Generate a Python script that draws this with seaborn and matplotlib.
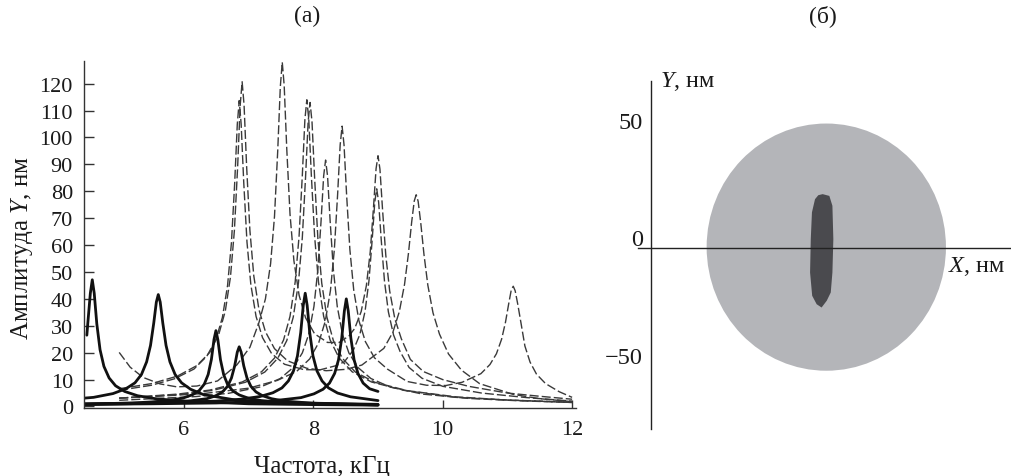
import matplotlib
matplotlib.use("Agg")
import matplotlib.pyplot as plt
import seaborn as sns
from matplotlib.patches import Ellipse
from matplotlib.transforms import ScaledTranslation

# (а) amplitude-frequency curves
# dashed curves (frequency in kHz, amplitude in nm)
dash_a_f = [5.0, 5.17, 5.37, 5.63, 5.89, 6.2, 6.52, 6.82, 7.02, 7.16, 7.26, 7.34, 7.40, 7.45, 7.49, 7.52,
            7.55, 7.59, 7.64, 7.70, 7.78, 7.88, 8.02, 8.22, 8.4, 8.55, 8.64, 8.74, 8.82, 8.88, 8.93, 8.97,
            9.0, 9.03, 9.07, 9.12, 9.18, 9.26, 9.36, 9.5, 9.7, 10.0, 10.4, 11.0, 11.5, 12.0]
dash_a_y = [20.1, 14.6, 10.8, 8.4, 7.3, 7.6, 9.5, 15.5, 22.0, 31.2, 40.0, 53.1, 70.6, 95.0, 118.8, 128.0,
            119.3, 95.6, 71.5, 54.2, 41.4, 33.0, 27.0, 23.8, 23.8, 26.2, 29.0, 35.3, 44.9, 57.5, 73.9, 88.4,
            93.2, 88.2, 73.2, 56.3, 43.0, 32.6, 25.2, 17.5, 13.0, 10.0, 7.5, 5.0, 3.8, 2.7]

dash_b_f = [5.0, 5.5, 5.9, 6.2, 6.4, 6.54, 6.64, 6.72, 6.78, 6.83, 6.87, 6.9, 6.93, 6.97, 7.02, 7.08,
            7.16, 7.26, 7.4, 7.6, 7.9, 8.2, 8.5, 8.75, 9.09, 9.23, 9.33, 9.41, 9.47, 9.52, 9.56, 9.59,
            9.62, 9.66, 9.71, 9.77, 9.85, 9.95, 10.09, 10.29, 10.57, 11.09, 11.5, 12.0]
dash_b_y = [6.6, 8.5, 11.3, 15.2, 20.1, 26.9, 35.5, 48.2, 65.3, 88.8, 112.0, 120.7, 112.0, 88.9, 65.5, 48.6,
            36.0, 27.8, 21.5, 17.0, 14.2, 13.3, 13.8, 15.4, 21.6, 27.6, 35.3, 45.4, 56.8, 68.5, 76.4, 78.7,
            76.3, 68.4, 56.6, 45.1, 34.8, 26.9, 19.5, 13.5, 8.5, 4.5, 2.9, 1.8]

dash_c_f = [5.0, 5.5, 5.855, 6.155, 6.355, 6.495, 6.595, 6.675, 6.735, 6.785, 6.825, 6.855, 6.885, 6.925,
            6.975, 7.035, 7.115, 7.215, 7.355, 7.555, 7.855, 8.1, 8.34, 8.48, 8.62, 8.72, 8.8, 8.86, 8.91,
            8.95, 8.98, 9.01, 9.05, 9.1, 9.16, 9.24, 9.34, 9.48, 9.68, 10.0, 10.6, 11.3, 12.0]
dash_c_y = [6.0, 7.9, 10.3, 13.9, 18.7, 24.9, 33.1, 45.0, 61.0, 83.1, 104.8, 113.7, 104.9, 83.2,
            61.1, 45.2, 33.5, 25.6, 19.7, 15.7, 13.7, 13.6, 15.1, 16.6, 21.0, 26.8, 35.4, 46.7, 62.0,
            76.0, 80.9, 75.9, 61.9, 46.6, 35.2, 26.6, 20.5, 14.5, 10.5, 7.5, 5.0, 3.3, 2.0]

dash_d_f = [5.0, 5.6, 6.3, 7.0, 7.445, 7.745, 7.945, 8.085, 8.185, 8.265, 8.325, 8.375, 8.415, 8.445,
            8.475, 8.515, 8.565, 8.625, 8.705, 8.805, 8.945, 9.145, 9.45, 9.75, 10.05, 10.3, 10.59, 10.73,
            10.83, 10.91, 10.97, 11.02, 11.06, 11.09, 11.12, 11.16, 11.21, 11.27, 11.35, 11.45, 11.59, 11.8, 12.0]
dash_d_y = [3.1, 3.8, 4.8, 6.8, 9.7, 13.1, 17.7, 23.8, 31.7, 43.1, 58.3, 78.5, 97.2, 104.2,
            97.2, 78.5, 58.4, 43.2, 31.9, 24.1, 18.1, 13.9, 9.3, 7.9, 7.8, 9.0, 12.2, 15.6,
            19.6, 25.0, 31.3, 38.2, 43.4, 44.7, 43.0, 38.0, 31.0, 22.5, 16.5, 12.0, 8.5, 5.5, 3.4]

dash_e_f = [5.0, 5.9, 6.4, 6.9, 7.2, 7.4, 7.54, 7.64, 7.72, 7.78, 7.83, 7.87, 7.9, 7.93, 7.97, 8.02,
            8.08, 8.16, 8.26, 8.4, 8.6, 8.9, 9.4, 10.2, 11.0, 12.0]
dash_e_y = [3.1, 4.6, 6.1, 9.1, 12.9, 18.0, 24.7, 33.5, 46.3, 63.3, 85.8, 106.7, 114.0, 106.7, 85.8, 63.3,
            46.3, 33.5, 24.7, 18.0, 12.9, 9.1, 6.0, 3.4, 2.4, 1.6]

dash_f_f = [5.0, 5.95, 6.45, 6.95, 7.25, 7.45, 7.59, 7.69, 7.77, 7.83, 7.88, 7.92, 7.95, 7.98, 8.02, 8.07,
            8.13, 8.21, 8.31, 8.45, 8.65, 8.95, 9.45, 10.2, 11.0, 12.0]
dash_f_y = [3.1, 4.5, 6.0, 9.0, 12.8, 17.9, 24.5, 33.2, 45.9, 62.7, 85.1, 105.8, 113.0, 105.8, 85.1, 62.7,
            45.9, 33.2, 24.5, 17.9, 12.8, 9.0, 5.9, 3.6, 2.4, 1.5]

dash_g_f = [5.0, 6.19, 6.69, 7.19, 7.49, 7.69, 7.83, 7.93, 8.01, 8.07, 8.12, 8.16, 8.19, 8.22, 8.26, 8.31,
            8.37, 8.45, 8.55, 8.69, 8.89, 9.19, 9.69, 10.4, 11.2, 12.0]
dash_g_y = [2.3, 3.7, 4.9, 7.3, 10.4, 14.5, 19.9, 26.9, 37.2, 50.8, 69.0, 85.7, 91.6, 85.7, 69.0, 50.8,
            37.2, 26.9, 19.9, 14.5, 10.4, 7.2, 4.6, 3.0, 2.1, 1.5]

# solid curves
solid_1_f = [4.5, 4.514, 4.554, 4.584, 4.614, 4.654, 4.704, 4.764, 4.844, 4.944, 5.084, 5.284, 5.584,
             6.1, 7.0, 8.0, 9.0]
solid_1_y = [26.5, 30.7, 42.1, 47.1, 42.1, 30.7, 21.1, 14.9, 10.6, 7.7, 5.6, 4.0, 2.8,
             1.9, 1.0, 0.7, 0.5]

solid_2_f = [4.456, 4.604, 4.904, 5.104, 5.244, 5.344, 5.424, 5.484, 5.534, 5.574, 5.604, 5.634, 5.674,
             5.724, 5.784, 5.864, 5.964, 6.104, 6.304, 6.8, 7.6, 9.0]
solid_2_y = [3.1, 3.4, 4.8, 6.6, 8.8, 11.9, 16.6, 22.7, 31.0, 38.8, 41.6, 38.8, 31.0,
             22.7, 16.6, 11.9, 8.8, 6.4, 4.4, 2.4, 1.4, 0.8]

solid_3_f = [4.456, 5.2, 5.5, 5.795, 5.995, 6.135, 6.235, 6.315, 6.375, 6.425, 6.465, 6.495, 6.525,
             6.565, 6.615, 6.675, 6.755, 6.855, 6.995, 7.195, 7.5, 8.0, 9.0]
solid_3_y = [0.9, 1.3, 1.7, 2.3, 3.2, 4.4, 5.9, 8.3, 11.9, 17.5, 24.9, 28.2, 24.8,
             17.4, 11.8, 8.2, 5.8, 4.3, 3.1, 2.2, 1.6, 1.0, 0.6]

solid_4_f = [4.456, 5.5, 6.0, 6.355, 6.495, 6.595, 6.675, 6.735, 6.785, 6.825, 6.855, 6.885, 6.925,
             6.975, 7.035, 7.115, 7.215, 7.355, 7.555, 8.0, 9.0]
solid_4_y = [0.7, 1.2, 1.8, 2.9, 4.0, 5.4, 7.5, 10.6, 15.1, 20.2, 22.2, 20.2, 15.1,
             10.6, 7.5, 5.4, 4.0, 2.9, 2.0, 1.2, 0.6]

solid_5_f = [4.456, 5.5, 6.5, 6.875, 7.175, 7.375, 7.515, 7.615, 7.695, 7.755, 7.805, 7.845, 7.875,
             7.905, 7.945, 7.995, 8.055, 8.135, 8.235, 8.375, 8.575, 9.0]
solid_5_y = [1.0, 1.3, 2.0, 2.7, 3.7, 5.1, 6.9, 9.5, 13.3, 18.8, 27.4, 37.6, 42.1,
             37.6, 27.4, 18.8, 13.3, 9.5, 6.9, 5.0, 3.6, 2.2]

solid_6_f = [4.456, 5.5, 6.5, 7.3, 7.81, 8.01, 8.15, 8.25, 8.33, 8.39, 8.44, 8.48, 8.51,
             8.54, 8.58, 8.63, 8.69, 8.77, 8.87, 9.0]
solid_6_y = [0.8, 1.0, 1.3, 1.9, 3.3, 4.7, 6.4, 8.7, 12.3, 17.4, 25.5, 35.5, 40.0,
             35.5, 25.5, 17.4, 12.3, 8.7, 6.6, 5.6]

x_ticks_a = [6, 8, 10, 12]
y_ticks_a = list(range(0, 121, 10))

# (б) region in the X-Y plane, nm
disk_center = (74.6, 0.3)
disk_size = (101.8, 105.2)
blob_x = [73.05, 75.9, 77.2, 77.6, 77.2, 76.5, 74.8, 72.6, 70.5, 68.6, 67.7, 68.0, 68.5, 69.8, 71.2]
blob_y = [22.85, 22.1, 17.9, 3.7, -10.5, -19.0, -22.5, -25.4, -24.0, -20.4, -10.5, 3.7, 15.1, 20.7, 22.4]
y_ticks_b = [-50, 0, 50]

dashed = [(dash_a_f, dash_a_y), (dash_b_f, dash_b_y), (dash_c_f, dash_c_y), (dash_d_f, dash_d_y),
          (dash_e_f, dash_e_y), (dash_f_f, dash_f_y), (dash_g_f, dash_g_y)]
solid = [(solid_1_f, solid_1_y), (solid_2_f, solid_2_y), (solid_3_f, solid_3_y),
         (solid_4_f, solid_4_y), (solid_5_f, solid_5_y), (solid_6_f, solid_6_y)]

sns.set_style("ticks")
plt.rcParams['font.family'] = ['Liberation Serif', 'DejaVu Serif']
plt.rcParams['mathtext.fontset'] = 'custom'
plt.rcParams['mathtext.rm'] = 'Liberation Serif'
plt.rcParams['mathtext.it'] = 'Liberation Serif:italic'

ink = '#1a1a1a'
fig = plt.figure(figsize=(10.12, 4.77), dpi=100)

# ---- panel (а)
ax = fig.add_axes([84 / 1012, 1 - 409 / 477, 492 / 1012, 347.5 / 477])
for f, a in dashed:
    sns.lineplot(x=f, y=a, ax=ax, color='#3a3a3a', linewidth=1.0,
                 linestyle=(0, (6.5, 2.2)), sort=False, estimator=None)
for f, a in solid:
    sns.lineplot(x=f, y=a, ax=ax, color='#111111', linewidth=2.0, sort=False, estimator=None)

ax.set_xlim(4.456, 12.06)
ax.set_ylim(-0.56, 128.6)
ax.set_xticks(x_ticks_a)
ax.set_yticks(y_ticks_a)
sns.despine(ax=ax)
for s in ['left', 'bottom']:
    ax.spines[s].set_color('#333333')
    ax.spines[s].set_linewidth(1.0)
ax.tick_params(axis='x', direction='in', length=6, width=1, color='#333333', labelsize=16, pad=9, labelcolor=ink)
ax.tick_params(axis='y', direction='in', length=7, width=1, color='#333333', labelsize=16, pad=8, labelcolor=ink)
ax.set_xlabel('Частота, кГц', fontsize=18, color=ink)
ax.xaxis.set_label_coords(0.484, -0.135)
ax.set_ylabel('Амплитуда $Y$, нм', fontsize=18, color=ink)
ax.yaxis.set_label_coords(-0.1, 0.462)

fig.text(307 / 1012, 1 - 16 / 477, '(а)', fontsize=17, ha='center', va='center', color=ink)
fig.text(823 / 1012, 1 - 16 / 477, '(б)', fontsize=17, ha='center', va='center', color=ink)

# ---- panel (б)
bx = fig.add_axes([638 / 1012, 1 - 430 / 477, 374 / 1012, 348 / 477])
bx.set_xlim(-5.5, 153.6)
bx.set_ylim(-77.1, 71.0)
bx.add_patch(Ellipse(disk_center, disk_size[0], disk_size[1], facecolor='#b4b5b9', edgecolor='none', zorder=1))
bx.fill(blob_x, blob_y, color='#4a4a4e', zorder=2, linewidth=0)
bx.spines['left'].set_position(('data', 0))
bx.spines['bottom'].set_position(('data', 0))
bx.spines['top'].set_visible(False)
bx.spines['right'].set_visible(False)
for s in ['left', 'bottom']:
    bx.spines[s].set_color('#222222')
    bx.spines[s].set_linewidth(1.0)
    bx.spines[s].set_zorder(3)
bx.set_xticks([])
bx.set_yticks([])
bx.patch.set_alpha(0)
lift = bx.transData + ScaledTranslation(0, 2 / 72, fig.dpi_scale_trans)
for v in y_ticks_b:
    lab = str(v).replace('-', '\u2212')
    bx.text(-3.4, v, lab, ha='right', va='baseline', fontsize=17.5, color=ink, transform=lift)
bx.text(3.8, 71.0, '$Y$, нм', ha='left', va='center', fontsize=17.5, color=ink, clip_on=False)
bx.text(126.4, -7.7, '$X$, нм', ha='left', va='center', fontsize=17.5, color=ink, clip_on=False)

fig.savefig('out.png', dpi=100)
